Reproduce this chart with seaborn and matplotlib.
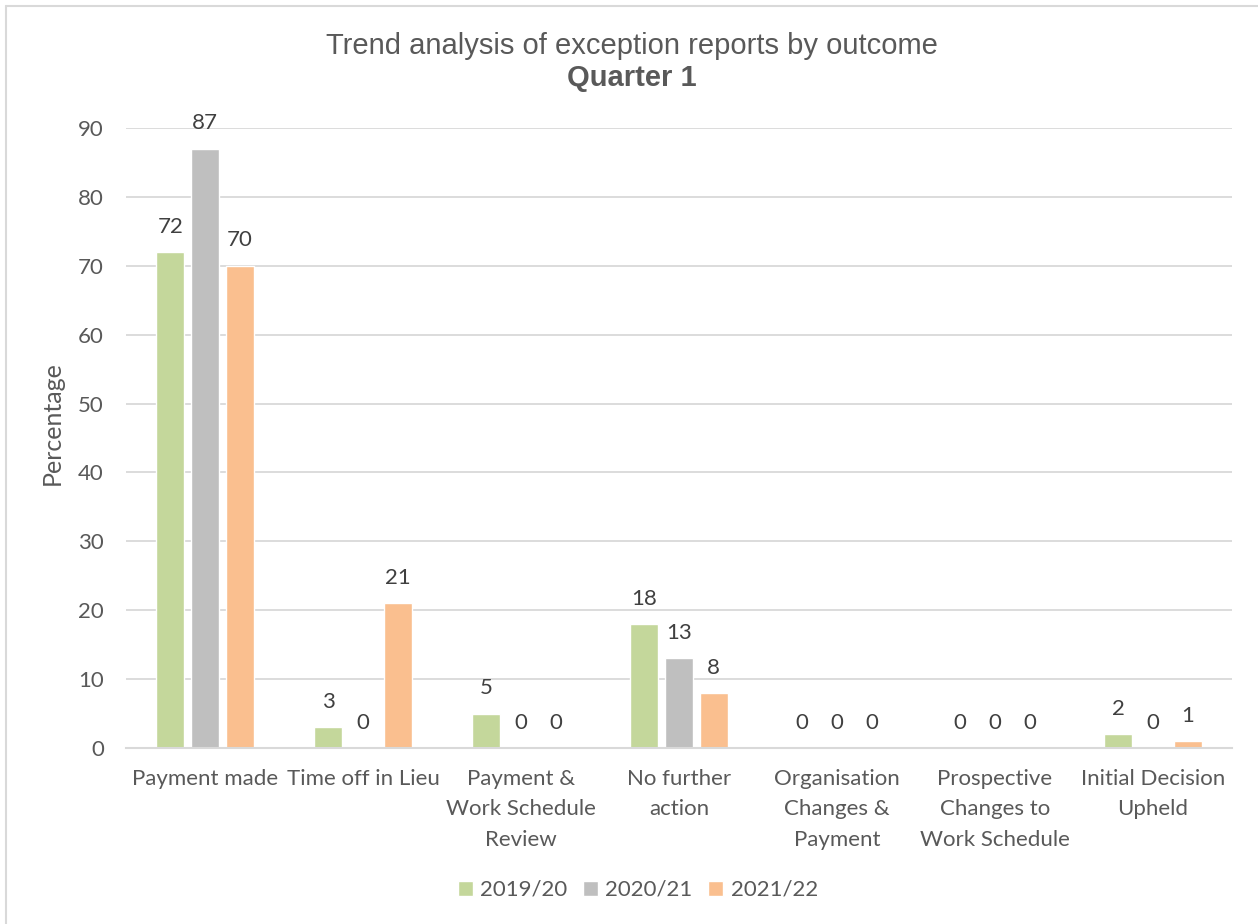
import matplotlib
matplotlib.use("Agg")
import matplotlib.pyplot as plt
from matplotlib.lines import Line2D
import seaborn as sns
import pandas as pd

# Outcome categories and the share (%) of exception reports per year
outcomes = [
    "Payment made",
    "Time off in Lieu",
    "Payment &\nWork Schedule\nReview",
    "No further\naction",
    "Organisation\nChanges &\nPayment",
    "Prospective\nChanges to\nWork Schedule",
    "Initial Decision\nUpheld",
]
years = ["2019/20", "2020/21", "2021/22"]
values_2019 = [72, 3, 5, 18, 0, 0, 2]
values_2020 = [87, 0, 0, 13, 0, 0, 0]
values_2021 = [70, 21, 0, 8, 0, 0, 1]
colors = ["#C4D79B", "#BFBFBF", "#FABF8F"]
y_ticks = [0, 10, 20, 30, 40, 50, 60, 70, 80, 90]

df = pd.DataFrame({
    "outcome": outcomes * 3,
    "year": [years[0]] * 7 + [years[1]] * 7 + [years[2]] * 7,
    "value": values_2019 + values_2020 + values_2021,
})

sns.set_theme(style="white")
plt.rcParams["font.family"] = ["Lato", "DejaVu Sans"]

text_col = "#595959"
label_col = "#404040"
fs = 16

fig = plt.figure(figsize=(12.58, 9.24), dpi=100)
ax = fig.add_axes([126 / 1258, 1 - 748 / 924, (1232 - 126) / 1258, (748 - 128) / 924])

sns.barplot(data=df, x="outcome", y="value", hue="year", palette=colors,
            width=0.66, gap=0.2, saturation=1, ax=ax, order=outcomes,
            hue_order=years, errorbar=None)

ax.set_ylim(0, 90)
ax.set_xlim(-0.5, len(outcomes) - 0.5)
ax.set_yticks(y_ticks)
ax.set_yticklabels([str(t) for t in y_ticks])
ax.yaxis.grid(True, color="#D9D9D9", linewidth=1.3)
ax.set_axisbelow(True)
for side in ["top", "right", "left"]:
    ax.spines[side].set_visible(False)
ax.spines["bottom"].set_color("#D9D9D9")
ax.spines["bottom"].set_linewidth(1.5)

ax.tick_params(axis="y", length=0, pad=16, labelsize=fs, labelcolor=text_col)
ax.tick_params(axis="x", length=0, pad=15, labelsize=fs, labelcolor=text_col)
for lbl in ax.get_xticklabels():
    lbl.set_linespacing(1.65)
    lbl.set_verticalalignment("top")

ax.set_xlabel("")
ax.set_ylabel("")
fig.text(52 / 1258, 1 - 423 / 924, "Percentage", rotation=90, ha="center", va="center",
         fontsize=18, color=text_col)

for cont in ax.containers:
    ax.bar_label(cont, fmt="%d", padding=11, fontsize=fs, color=label_col)

handles, labels = ax.get_legend_handles_labels()
ax.get_legend().remove()
fig.legend(handles, labels, loc="center", bbox_to_anchor=(638 / 1258, 1 - 890 / 924),
           ncol=3, frameon=False, fontsize=fs, labelcolor=text_col,
           handlelength=0.65, handleheight=0.65, handletextpad=0.35, columnspacing=0.7)

fig.text(632 / 1258, 1 - 46 / 924, "Trend analysis of exception reports by outcome",
         ha="center", va="center", fontsize=21, color=text_col,
         family=["Liberation Sans", "DejaVu Sans"])
fig.text(632 / 1258, 1 - 78 / 924, "Quarter 1", ha="center", va="center",
         fontsize=21, fontweight="bold", color=text_col,
         family=["Liberation Sans", "DejaVu Sans"])

# Light chart-area frame along the left and top edges
fig.add_artist(Line2D([6 / 1258, 6 / 1258], [0, 1 - 6 / 924], transform=fig.transFigure,
                      color="#D9D9D9", linewidth=1.5))
fig.add_artist(Line2D([6 / 1258, 1], [1 - 6 / 924, 1 - 6 / 924], transform=fig.transFigure,
                      color="#D9D9D9", linewidth=1.5))

fig.savefig("out.png", dpi=100, facecolor="white")
